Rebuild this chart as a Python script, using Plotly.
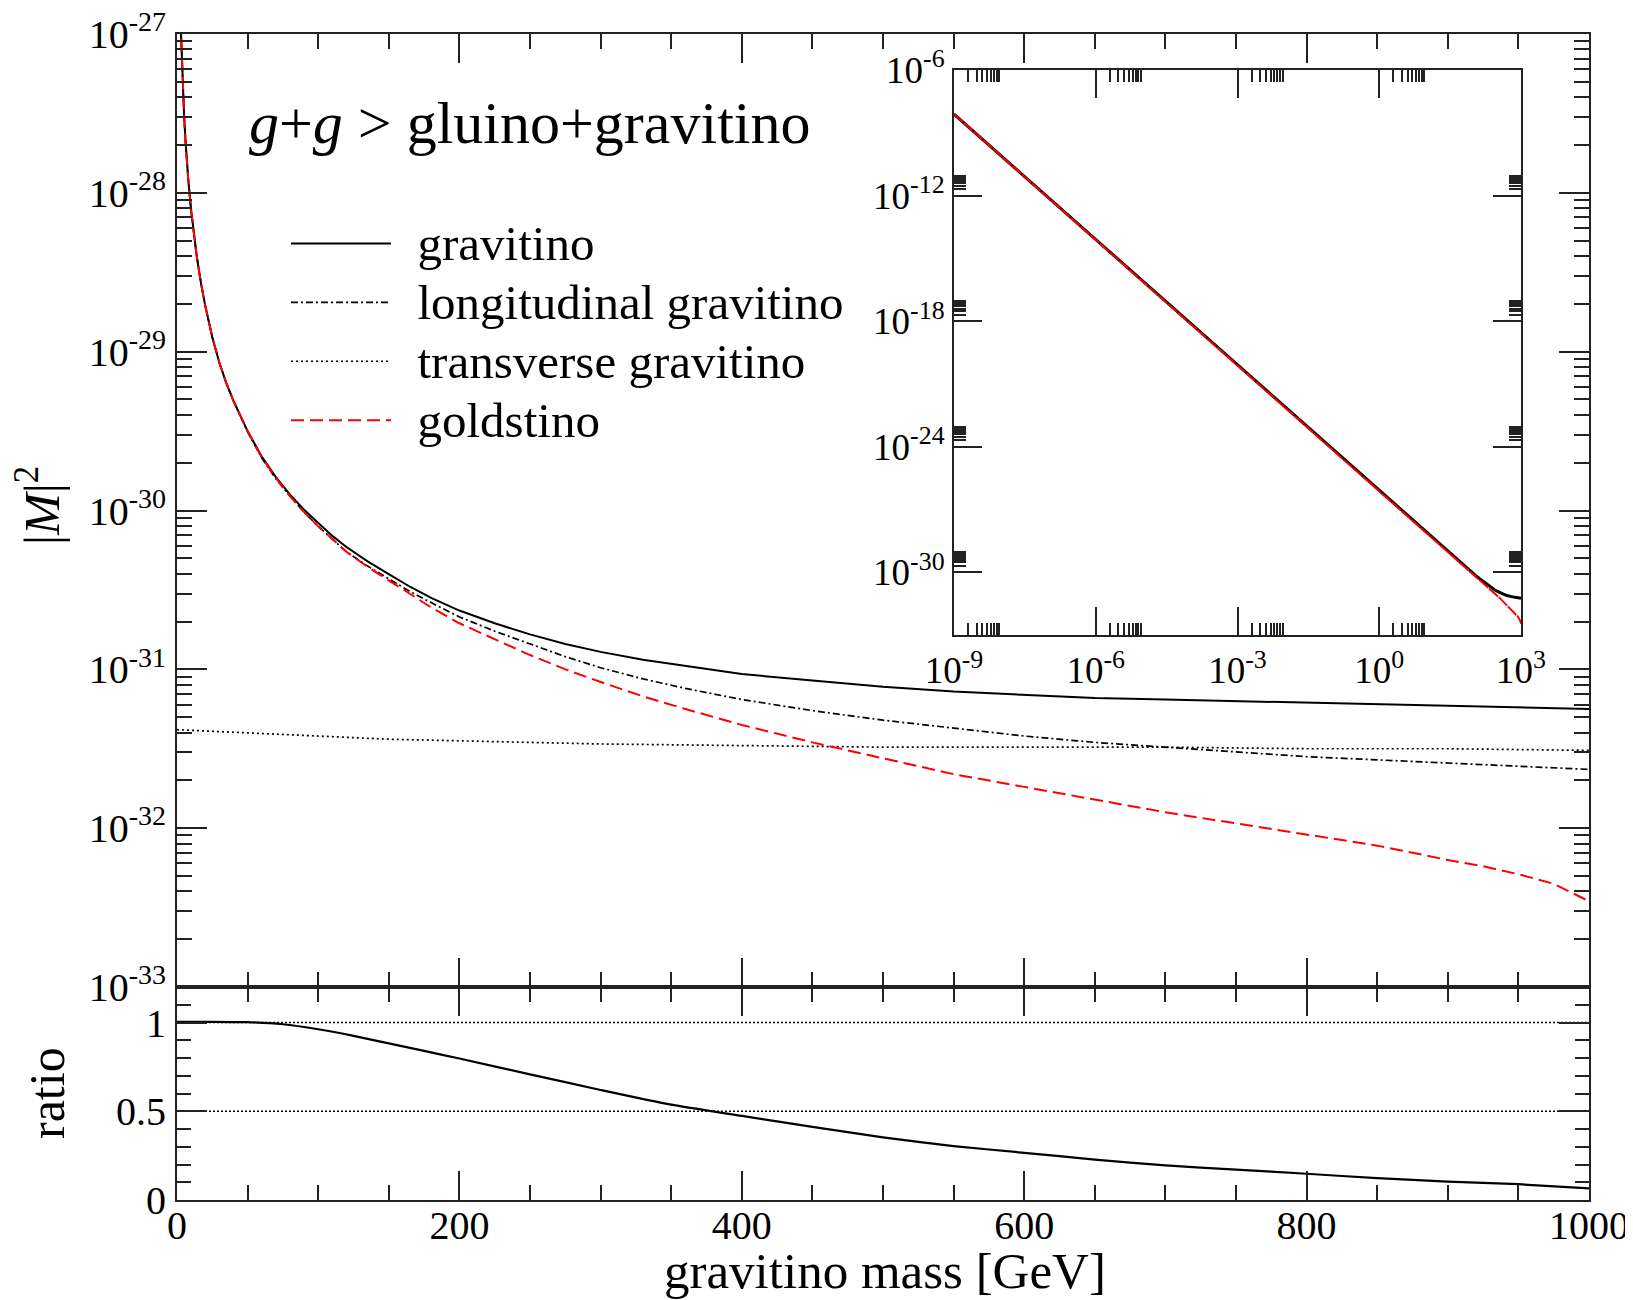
import plotly.graph_objects as go

# ---------------- data ----------------
mass = [2.5, 3, 4, 5, 6, 7, 8, 10, 12, 14, 17, 20, 25, 30, 35, 40, 50, 60, 70, 80,
        90, 100, 110, 120, 135, 150, 165, 180, 200, 225, 250, 275, 300, 330, 360,
        400, 450, 500, 550, 600, 650, 700, 750, 800, 850, 900, 925, 950, 975, 1000]
# log10 |M|^2
grav_exp = [-26.91, -27.06, -27.31, -27.51, -27.67, -27.80, -27.92, -28.11, -28.27,
            -28.40, -28.57, -28.71, -28.91, -29.07, -29.20, -29.31, -29.50, -29.66,
            -29.79, -29.90, -29.995, -30.08, -30.16, -30.23, -30.32, -30.40, -30.48,
            -30.55, -30.63, -30.71, -30.78, -30.84, -30.89, -30.94, -30.98, -31.03,
            -31.07, -31.11, -31.14, -31.16, -31.18, -31.19, -31.20, -31.21, -31.22,
            -31.23, -31.235, -31.24, -31.245, -31.25]
long_exp = [-26.91, -27.06, -27.31, -27.51, -27.67, -27.80, -27.92, -28.11, -28.27,
            -28.40, -28.57, -28.71, -28.91, -29.07, -29.20, -29.31, -29.505, -29.67,
            -29.80, -29.91, -30.01, -30.10, -30.18, -30.26, -30.35, -30.43, -30.51,
            -30.58, -30.67, -30.76, -30.84, -30.92, -30.99, -31.06, -31.12, -31.19,
            -31.26, -31.32, -31.37, -31.42, -31.46, -31.49, -31.52, -31.55, -31.57,
            -31.59, -31.60, -31.61, -31.62, -31.63]
gold_exp = [-26.91, -27.06, -27.31, -27.51, -27.67, -27.80, -27.92, -28.11, -28.27,
            -28.40, -28.57, -28.71, -28.91, -29.07, -29.20, -29.31, -29.50, -29.665,
            -29.795, -29.91, -30.01, -30.10, -30.18, -30.26, -30.355, -30.44, -30.53,
            -30.61, -30.71, -30.81, -30.91, -31.00, -31.08, -31.17, -31.25, -31.35,
            -31.46, -31.56, -31.66, -31.74, -31.82, -31.90, -31.97, -32.04, -32.11,
            -32.20, -32.24, -32.29, -32.35, -32.46]
trans_mass = [0, 50, 100, 150, 200, 250, 300, 400, 500, 600, 700, 800, 900, 1000]
trans_exp = [-31.38, -31.40, -31.42, -31.44, -31.45, -31.46, -31.47, -31.48, -31.49,
             -31.49, -31.49, -31.50, -31.50, -31.51]

ratio_mass = [0, 25, 50, 75, 100, 125, 150, 175, 200, 250, 300, 350, 400, 450, 500,
              550, 600, 650, 700, 750, 800, 850, 900, 950, 1000]
ratio = [1.003, 1.004, 1.002, 0.99, 0.962, 0.925, 0.882, 0.84, 0.797, 0.708, 0.62,
         0.537, 0.474, 0.412, 0.353, 0.304, 0.266, 0.228, 0.195, 0.171, 0.148, 0.123,
         0.104, 0.089, 0.066]
ref_levels = [1.0, 0.5]
ref_span = [0, 1000]

# inset: very light masses (log-log)
inset_mass_low = [1e-9, 1e-6, 1e-3, 1.0]
inset_exp_low = [-8.11, -14.11, -20.11, -26.11]

legend_names = ["gravitino", "longitudinal gravitino", "transverse gravitino", "goldstino"]

main_exps = [-27, -28, -29, -30, -31, -32, -33]
inset_x_exps = [-9, -6, -3, 0, 3]
inset_y_exps = [-6, -12, -18, -24, -30]

# ---------------- helpers ----------------
def pw(v):
    return [10.0 ** e for e in v]

FONT = "Liberation Serif"
BLACK = "#000000"
LINE = "#222222"
RED = "#ff0000"

def lg(name):
    return "\u2002<span style=\"font-size:49px\">%s</span>" % name

fig = go.Figure()

# main panel
fig.add_trace(go.Scatter(x=mass, y=pw(grav_exp), mode="lines", name=lg(legend_names[0]),
                         line=dict(color=BLACK, width=2), xaxis="x", yaxis="y",
                         legendgroup="a"))
fig.add_trace(go.Scatter(x=mass, y=pw(long_exp), mode="lines", name=lg(legend_names[1]),
                         line=dict(color=BLACK, width=1.7, dash="7px,3px,2px,3px"),
                         xaxis="x", yaxis="y", legendgroup="b"))
fig.add_trace(go.Scatter(x=trans_mass, y=pw(trans_exp), mode="lines", name=lg(legend_names[2]),
                         line=dict(color=BLACK, width=1.7, dash="2px,3px"),
                         xaxis="x", yaxis="y", legendgroup="c"))
fig.add_trace(go.Scatter(x=mass, y=pw(gold_exp), mode="lines", name=lg(legend_names[3]),
                         line=dict(color=RED, width=2, dash="13px,6px"),
                         xaxis="x", yaxis="y", legendgroup="d"))

# ratio panel
for lv in ref_levels:
    fig.add_trace(go.Scatter(x=ref_span, y=[lv, lv], mode="lines", showlegend=False,
                             line=dict(color=BLACK, width=1.7, dash="2px,2px"),
                             xaxis="x2", yaxis="y2"))
fig.add_trace(go.Scatter(x=ratio_mass, y=ratio, mode="lines", showlegend=False,
                         line=dict(color=BLACK, width=2.2, shape="spline", smoothing=0.6),
                         xaxis="x2", yaxis="y2"))

# inset
fig.add_trace(go.Scatter(x=inset_mass_low + mass, y=pw(inset_exp_low + grav_exp),
                         mode="lines", showlegend=False,
                         line=dict(color=BLACK, width=3), xaxis="x3", yaxis="y3"))
fig.add_trace(go.Scatter(x=inset_mass_low + mass, y=pw(inset_exp_low + gold_exp),
                         mode="lines", showlegend=False,
                         line=dict(color=RED, width=2, dash="12px,1px"),
                         xaxis="x3", yaxis="y3"))

# ---------------- layout ----------------
# the page body adds an 8 px offset; screen positions below are in page pixels
OFF = 8
PL, PR, PT, PB = 177, 1589, 34, 1200          # plot area on the page
W, H = 1633 - OFF, 1300 - OFF
L, T = PL - OFF, PT - OFF
R, B = W - (PR - OFF), H - (PB - OFF)
ph = PB - PT
split = 213 / ph

axis_common = dict(showline=True, linewidth=2, linecolor=LINE, mirror="ticks",
                   ticks="inside", tickcolor=LINE, tickwidth=2, showgrid=False,
                   zeroline=False, automargin=False, ticklabeloverflow="allow",
                   tickfont=dict(family=FONT, size=40, color=BLACK))

minor_common = dict(ticks="inside", tickwidth=2, tickcolor=LINE, showgrid=False)

tick_main = ["10<sup>%d</sup>" % e for e in main_exps]

def px_x(p):
    return (p - PL) / (PR - PL)

def px_y(p):
    return 1 - (p - PT) / ph

inset_minor_x = [k * 10.0 ** e for e in (-9, -6, -3, 0) for k in range(2, 10)]
inset_minor_y = [k * 10.0 ** e for e in (-30, -24, -18, -12) for k in range(2, 10)]

fig.update_layout(
    width=W, height=H,
    margin=dict(l=L, r=R, t=T, b=B, autoexpand=False),
    paper_bgcolor="white", plot_bgcolor="white",
    font=dict(family=FONT, color=BLACK),
    xaxis=dict(axis_common, domain=[0, 1], anchor="y", range=[0, 1000], dtick=200,
               ticklen=29, showticklabels=False,
               minor=dict(minor_common, dtick=50, ticklen=15)),
    yaxis=dict(axis_common, domain=[split, 1], anchor="x", type="log",
               range=[-33, -27], tickvals=pw(main_exps), ticktext=tick_main,
               ticklen=30, ticklabelstandoff=1,
               minor=dict(minor_common, dtick="D1", ticklen=15)),
    xaxis2=dict(axis_common, domain=[0, 1], anchor="y2", range=[0, 1000], dtick=200,
                ticklen=29, ticklabelstandoff=-11,
                minor=dict(minor_common, dtick=50, ticklen=15)),
    yaxis2=dict(axis_common, domain=[0, split], anchor="x2", range=[0, 1.2],
                tickvals=[0, 0.5, 1], ticktext=["0", "0.5", "1"], ticklen=30,
                ticklabelstandoff=1,
                minor=dict(minor_common, dtick=0.1, ticklen=14)),
    xaxis3=dict(axis_common, domain=[px_x(954), px_x(1521)], anchor="y3", type="log",
                range=[-9, 3], tickvals=pw(inset_x_exps),
                ticktext=["10<sup>%d</sup>" % e for e in inset_x_exps],
                ticklen=28, ticklabelstandoff=2,
                tickfont=dict(family=FONT, size=37, color=BLACK),
                minor=dict(minor_common, tickvals=inset_minor_x, ticklen=12, tickwidth=1.5)),
    yaxis3=dict(axis_common, domain=[px_y(635), px_y(70)], anchor="x3", type="log",
                range=[-33, -6], tickvals=pw(inset_y_exps),
                ticktext=["10<sup>%d</sup>" % e for e in inset_y_exps],
                ticklen=28, ticklabelstandoff=0,
                tickfont=dict(family=FONT, size=37, color=BLACK),
                minor=dict(minor_common, tickvals=inset_minor_y, ticklen=12, tickwidth=1.5)),
    legend=dict(x=px_x(286), y=px_y(209), xanchor="left", yanchor="top",
                bgcolor="rgba(0,0,0,0)", font=dict(family=FONT, size=43, color=BLACK),
                itemwidth=100, tracegroupgap=0),
    showlegend=True,
    annotations=[
        dict(text="<i>g</i>+<i>g</i> > gluino+gravitino", xref="paper", yref="paper",
             x=px_x(247), y=px_y(123), xanchor="left", yanchor="middle",
             showarrow=False, font=dict(family=FONT, size=60, color=BLACK)),
        dict(text="|<i>M</i>|<sup>2</sup>", xref="paper", yref="paper",
             x=px_x(39), y=px_y(506), xanchor="center", yanchor="middle",
             textangle=-90, showarrow=False, font=dict(family=FONT, size=50, color=BLACK)),
        dict(text="ratio", xref="paper", yref="paper",
             x=px_x(47), y=px_y(1093), xanchor="center", yanchor="middle",
             textangle=-90, showarrow=False, font=dict(family=FONT, size=50, color=BLACK)),
        dict(text="gravitino mass [GeV]", xref="paper", yref="paper",
             x=px_x(885), y=px_y(1271), xanchor="center", yanchor="middle",
             showarrow=False, font=dict(family=FONT, size=51, color=BLACK)),
    ],
)

fig.write_html("out.html")
